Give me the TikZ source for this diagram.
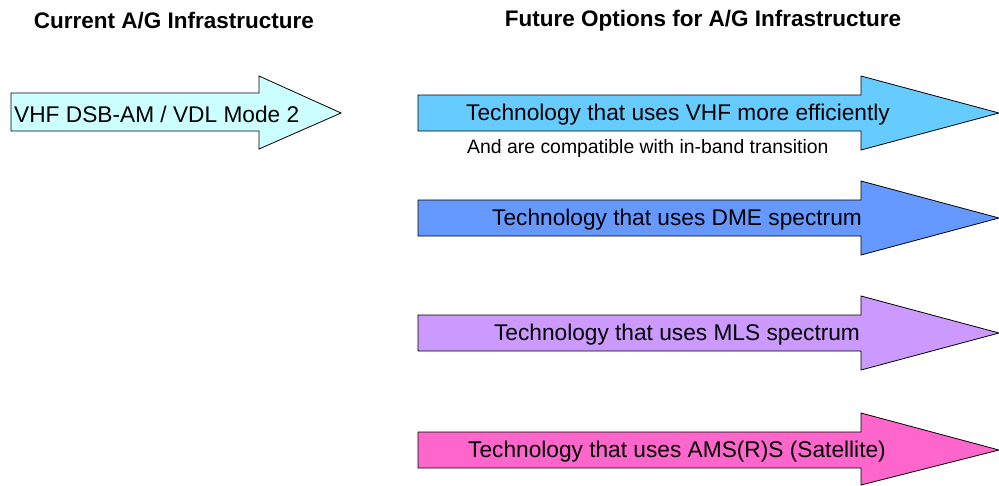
\documentclass[tikz,border=0pt]{standalone}
\usepackage{fontspec}
\setmainfont{Liberation Sans}

\definecolor{curcyan}{HTML}{CCFFFF}
\definecolor{vhfblue}{HTML}{66CCFF}
\definecolor{dmeblue}{HTML}{6699FF}
\definecolor{mlsviolet}{HTML}{CC99FF}
\definecolor{satpink}{HTML}{FF66CC}

\begin{document}
\begin{tikzpicture}[
  x=1pt, y=-1pt,
  fatarrow/.style={
    draw, line width=0.8pt, line join=miter
  },
  heading/.style={
    font=\bfseries\fontsize{22.5}{26}\selectfont, inner sep=0pt
  },
  arrowtext/.style={
    font=\fontsize{22.7}{27}\selectfont, inner sep=0pt
  },
  note/.style={
    font=\fontsize{19.4}{23}\selectfont, inner sep=0pt
  }
]
\useasboundingbox (0,0) rectangle (999,485);

% geometry
\def\xs{418}     % shaft start (future options)
\def\xh{861}     % head base
\def\xt{999}     % tip

% headings
\node[heading] (curhead) at (174,21) {Current A/G Infrastructure};
\node[heading] (futhead) at (703,21) {Future Options for A/G Infrastructure};

% current arrow
\draw[fatarrow, fill=curcyan] (11,93) -- (259,93) -- (259,76) -- (341,113) -- (259,149) -- (259,131) -- (11,131) -- cycle;
\node[arrowtext, anchor=west] (cur) at (14,114) {VHF DSB-AM / VDL Mode 2};

% future arrows
\draw[fatarrow, fill=vhfblue] (\xs,95) -- (\xh,95) -- (\xh,76) -- (\xt,113) -- (\xh,150) -- (\xh,131) -- (\xs,131) -- cycle;
\draw[fatarrow, fill=dmeblue] (\xs,200) -- (\xh,200) -- (\xh,181) -- (\xt,218) -- (\xh,255) -- (\xh,236) -- (\xs,236) -- cycle;
\draw[fatarrow, fill=mlsviolet] (\xs,315) -- (\xh,315) -- (\xh,296) -- (\xt,333) -- (\xh,370) -- (\xh,351) -- (\xs,351) -- cycle;
\draw[fatarrow, fill=satpink] (\xs,432) -- (\xh,432) -- (\xh,413) -- (\xt,450) -- (\xh,485) -- (\xh,468) -- (\xs,468) -- cycle;

% arrow labels
\node[arrowtext] (vhf) at (678,115) {Technology that uses VHF more efficiently};
\node[note, anchor=west] (inband) at (467,148) {And are compatible with in-band transition};
\node[arrowtext] (dme) at (677,220) {Technology that uses DME spectrum};
\node[arrowtext] (mls) at (677,335) {Technology that uses MLS spectrum};
\node[arrowtext] (sat) at (677,452) {Technology that uses AMS(R)S (Satellite)};

\end{tikzpicture}
\end{document}
